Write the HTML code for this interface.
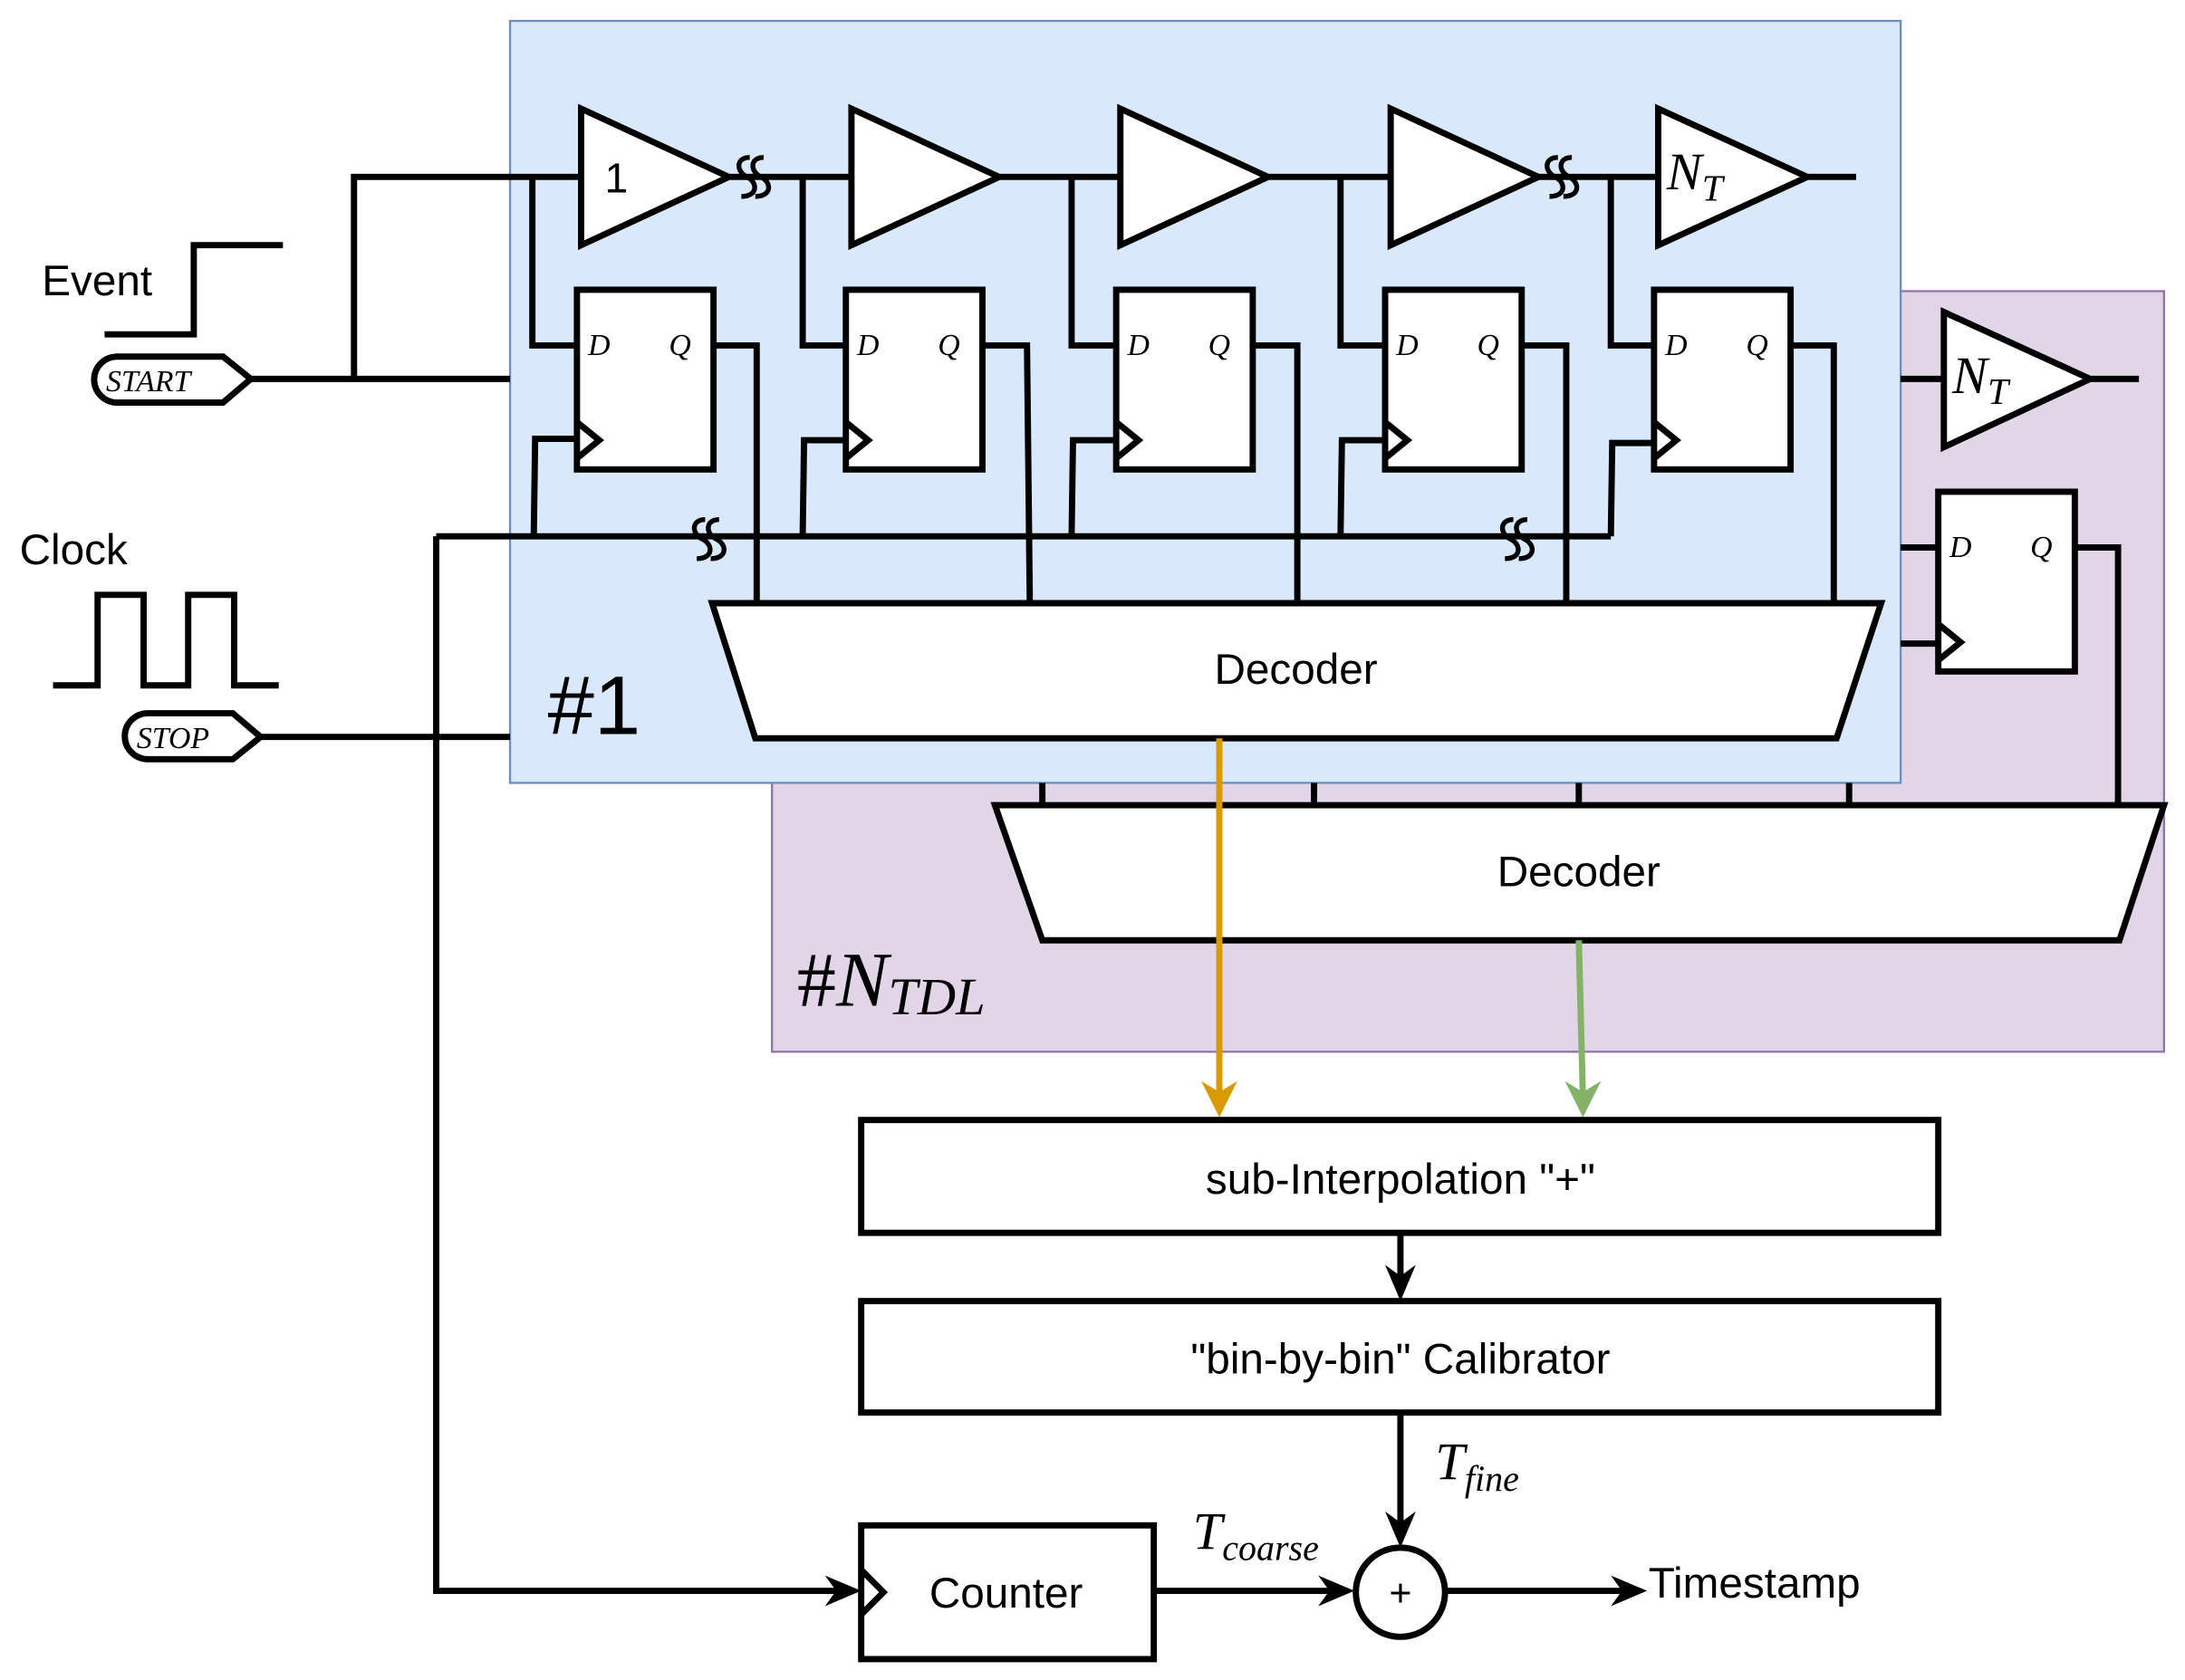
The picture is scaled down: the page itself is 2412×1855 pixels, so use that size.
<!DOCTYPE html>
<html><head><meta charset="utf-8"><style>
html,body{margin:0;padding:0;background:#fff}
svg{display:block}
text{font-family:"Liberation Sans",sans-serif}
.m{font-family:"Liberation Serif",serif;font-style:italic}
</style></head><body>
<svg width="2412" height="1855" viewBox="0 0 1568 1206" xmlns="http://www.w3.org/2000/svg">
<defs>
<g id="ff">
<rect x="0" y="0" width="98" height="129" fill="#fff" stroke="#000" stroke-width="4.5"/>
<path d="M0 95 L16 108 L0 121" fill="none" stroke="#000" stroke-width="4.5"/>
<text x="8" y="47" class="m" font-size="22">D</text>
<text x="66" y="47" class="m" font-size="22">Q</text>
</g>
<g id="sq" fill="none" stroke="#000" stroke-width="3.5">
<path d="M-2 -14 C-12 -14 -12 -4 -4 0 C4 4 4 14 -8 14"/>
<path d="M8 -14 C-2 -14 -2 -4 6 0 C14 4 14 14 2 14"/>
</g>
</defs>
<rect x="554" y="209" width="999" height="546" fill="#e1d5e7" stroke="#9673a6" stroke-width="1.5"/>
<rect x="366" y="15" width="998" height="547" fill="#dae8fc" stroke="#6c8ebf" stroke-width="1.5"/>

<g stroke="#000" stroke-width="4.5" fill="none">
<path d="M254 272 V127 H1332"/>
<path d="M180 272 H366"/>
<path d="M187 529 H366"/>
<path d="M382 127 V248 H414"/><path d="M576 127 V248 H607"/><path d="M769 127 V248 H801"/><path d="M962 127 V248 H994"/><path d="M1156 127 V248 H1187"/>
<path d="M383 385 L384 315 H414"/><path d="M576 385 L577 316 H607"/><path d="M769 385 L770 316 H801"/><path d="M962 385 L963 316 H994"/><path d="M1156 385 L1157 318 H1187"/>
<path d="M313 385 H1156"/>
<path d="M313 385 V1142 H610"/>
<path d="M512 248 H543 V433"/><path d="M705 248 H737 L739 433"/><path d="M899 248 H931 V433"/><path d="M1092 248 H1124 V433"/><path d="M1285 248 H1316 V433"/>
<path d="M1364 272 H1395"/><path d="M1500 272 H1535"/>
<path d="M1364 393 H1391"/><path d="M1364 462 H1391"/>
<path d="M1489 393 H1520 V578"/>
<path d="M748 562 V578"/><path d="M943 562 V578"/><path d="M1133 562 V578"/><path d="M1327 562 V578"/>
<path d="M1005 885 V924"/>
<path d="M1005 1014 V1100"/>
<path d="M828 1142 H964"/>
<path d="M1037 1142 H1172"/>
<path d="M75 240 H139 V176 H203"/>
<path d="M38 492 H70 V427 H103 V492 H135 V427 H168 V492 H200"/>
</g>

<g fill="#fff" stroke="#000" stroke-width="4.5">
<path d="M417 78 L523 127 L417 176 Z"/>
<path d="M611 78 L717 127 L611 176 Z"/>
<path d="M804 78 L910 127 L804 176 Z"/>
<path d="M998 78 L1104 127 L998 176 Z"/>
<path d="M1190 78 L1297 127 L1190 176 Z"/>
<path d="M1395 224 L1500 272 L1395 321 Z"/>
</g>
<text x="434" y="138" font-size="30">1</text>
<text x="1196" y="136" class="m" font-size="38">N<tspan font-size="27" dy="8">T</tspan></text>
<text x="1401" y="282" class="m" font-size="38">N<tspan font-size="27" dy="8">T</tspan></text>

<use href="#ff" x="414" y="208"/><use href="#ff" x="607" y="208"/><use href="#ff" x="801" y="208"/><use href="#ff" x="994" y="208"/><use href="#ff" x="1187" y="208"/>
<use href="#ff" x="1391" y="353"/>

<use href="#sq" x="540" y="127"/><use href="#sq" x="1120" y="127"/>
<use href="#sq" x="508" y="387"/><use href="#sq" x="1088" y="387"/>

<path d="M511 433 L1350 433 L1318 530 L542 530 Z" fill="#fff" stroke="#000" stroke-width="4.5"/>
<text x="930" y="491" font-size="31" text-anchor="middle">Decoder</text>
<path d="M714 578 L1553 578 L1521 675 L748 675 Z" fill="#fff" stroke="#000" stroke-width="4.5"/>
<text x="1133" y="636" font-size="31" text-anchor="middle">Decoder</text>

<path d="M875 530 V790" stroke="#d79b00" stroke-width="4.5" fill="none"/>
<path d="M862 776 L875 802 L888 776 L875 784 Z" fill="#d79b00"/>
<path d="M1133 675 L1136 790" stroke="#82b366" stroke-width="4.5" fill="none"/>
<path d="M1123 776 L1136 802 L1149 776 L1136 784 Z" fill="#82b366"/>

<rect x="618" y="804" width="773" height="81" fill="#fff" stroke="#000" stroke-width="4.5"/>
<text x="1005" y="857" font-size="31" text-anchor="middle">sub-Interpolation "+"</text>
<rect x="618" y="934" width="773" height="80" fill="#fff" stroke="#000" stroke-width="4.5"/>
<text x="1005" y="986" font-size="31" text-anchor="middle">"bin-by-bin" Calibrator</text>
<rect x="618" y="1095" width="210" height="96" fill="#fff" stroke="#000" stroke-width="4.5"/>
<path d="M618 1127 L634 1143 L618 1159" fill="none" stroke="#000" stroke-width="4.5"/>
<text x="722" y="1154" font-size="31" text-anchor="middle">Counter</text>
<circle cx="1005" cy="1143" r="32" fill="#fff" stroke="#000" stroke-width="4.5"/>
<text x="1005" y="1153" font-size="28" text-anchor="middle">+</text>

<g fill="#000">
<path d="M994 908 L1005 934 L1016 908 L1005 916 Z"/>
<path d="M994 1085 L1005 1111 L1016 1085 L1005 1093 Z"/>
<path d="M592 1131 L618 1142 L592 1153 L600 1142 Z"/>
<path d="M946 1131 L972 1142 L946 1153 L954 1142 Z"/>
<path d="M1156 1131 L1182 1142 L1156 1153 L1164 1142 Z"/>
</g>
<text x="1183" y="1147" font-size="31">Timestamp</text>
<text x="1030" y="1062" class="m" font-size="38">T<tspan font-size="26" dy="8">fine</tspan></text>
<text x="856" y="1112" class="m" font-size="38">T<tspan font-size="26" dy="8">coarse</tspan></text>

<path d="M84 256 H160 L180 272 L160 289 H84 A16 16 0 0 1 84 256 Z" fill="#fff" stroke="#000" stroke-width="4.5"/>
<text x="76" y="281" class="m" font-size="22">START</text>
<path d="M106 512 H167 L187 529 L167 545 H106 A16 16 0 0 1 106 512 Z" fill="#fff" stroke="#000" stroke-width="4.5"/>
<text x="98" y="537" class="m" font-size="22">STOP</text>
<text x="30" y="212" font-size="31">Event</text>
<text x="14" y="405" font-size="31">Clock</text>
<text x="393" y="527" font-family="Liberation Serif,serif" font-size="60">#1</text>
<text x="572" y="722" class="m" font-size="56"><tspan font-style="normal" font-family="Liberation Serif,serif">#</tspan>N<tspan font-size="38" dy="6">TDL</tspan></text>
</svg>
</body></html>
